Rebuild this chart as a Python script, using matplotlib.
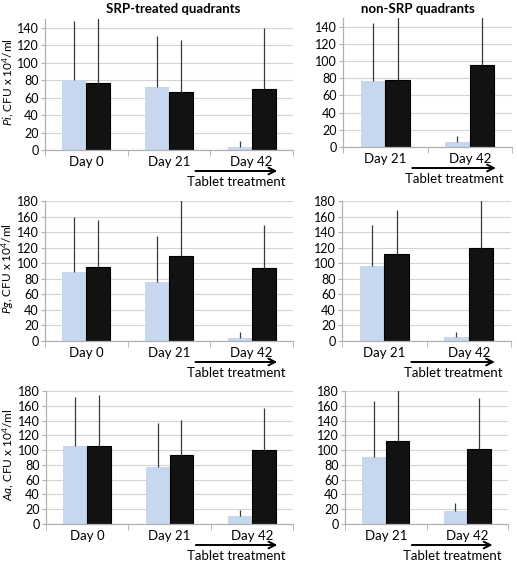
import matplotlib
matplotlib.use("Agg")
import matplotlib.pyplot as plt
import matplotlib.transforms as mtransforms
import numpy as np

plt.rcParams['font.family'] = ['Lato', 'DejaVu Sans']
plt.rcParams['mathtext.fontset'] = 'custom'
plt.rcParams['mathtext.rm'] = 'Lato'
plt.rcParams['mathtext.it'] = 'Lato:italic'

# ---- data ----
days_srp = ["Day 0", "Day 21", "Day 42"]
days_non = ["Day 21", "Day 42"]

pi_srp_light = [80, 72, 3]
pi_srp_light_err = [68, 59, 7]
pi_srp_dark = [77, 66, 70]
pi_srp_dark_err = [80, 60, 70]
pi_non_light = [77, 6]
pi_non_light_err = [67, 7]
pi_non_dark = [78, 95]
pi_non_dark_err = [80, 70]

pg_srp_light = [89, 76, 4]
pg_srp_light_err = [71, 59, 8]
pg_srp_dark = [95, 109, 94]
pg_srp_dark_err = [61, 80, 55]
pg_non_light = [96, 5]
pg_non_light_err = [53, 6]
pg_non_dark = [112, 119]
pg_non_dark_err = [57, 70]

aa_srp_light = [105, 77, 11]
aa_srp_light_err = [67, 60, 8]
aa_srp_dark = [106, 93, 100]
aa_srp_dark_err = [68, 48, 57]
aa_non_light = [91, 17]
aa_non_light_err = [75, 11]
aa_non_dark = [112, 102]
aa_non_dark_err = [70, 69]

ylabels = ["Pi", "Pg", "Aa"]
titles = ["SRP-treated quadrants", "non-SRP quadrants"]
arrow_text = "Tablet treatment"

LIGHT = "#c6d7ee"
DARK = "#121212"
GRID = "#d4d4d4"
AXC = "#b0b0b0"

W, H = 517, 562
fig = plt.figure(figsize=(W / 100, H / 100), dpi=100)


def px_axes(left, right, top, bottom):
    return fig.add_axes([left / W, 1 - bottom / H, (right - left) / W, (bottom - top) / H])


rows = [
    (pi_srp_light, pi_srp_light_err, pi_srp_dark, pi_srp_dark_err,
     pi_non_light, pi_non_light_err, pi_non_dark, pi_non_dark_err, 150, 140),
    (pg_srp_light, pg_srp_light_err, pg_srp_dark, pg_srp_dark_err,
     pg_non_light, pg_non_light_err, pg_non_dark, pg_non_dark_err, 180, 180),
    (aa_srp_light, aa_srp_light_err, aa_srp_dark, aa_srp_dark_err,
     aa_non_light, aa_non_light_err, aa_non_dark, aa_non_dark_err, 180, 180),
]

pos = [
    [(45, 293, 19, 150), (343, 512, 18, 147)],
    [(45, 293, 201, 341), (342, 511, 201, 341)],
    [(46, 293, 391, 524), (345, 508, 391, 524)],
]

bw = 0.29


def draw(ax, box, cats, light, lerr, dark, derr, ymax, ytop, ylabel=None):
    x = np.arange(len(cats))
    ax.set_axisbelow(True)
    ax.yaxis.grid(True, color=GRID, lw=0.8)
    ax.bar(x - bw / 2, light, bw, color=LIGHT, edgecolor='none', zorder=2)
    ax.bar(x + bw / 2, dark, bw, color=DARK, edgecolor='black', lw=0.8, zorder=2)
    ax.vlines(x - bw / 2, light, np.array(light) + np.array(lerr), color='#3a3a3a', lw=0.9, zorder=3)
    ax.vlines(x + bw / 2, dark, np.array(dark) + np.array(derr), color='#3a3a3a', lw=0.9, zorder=3)
    ax.set_xlim(-0.5, len(cats) - 0.5)
    ax.set_ylim(0, ymax)
    ax.set_yticks(np.arange(0, ytop + 1, 20))
    ax.set_xticks(x)
    ax.set_xticklabels(cats, fontsize=9.5)
    ax.set_xticks(np.arange(-0.5, len(cats)), minor=True)
    ax.tick_params(axis='x', which='major', length=0, pad=4)
    ax.tick_params(axis='x', which='minor', length=4, color=AXC)
    ax.tick_params(axis='y', length=3, color=AXC, labelsize=9, pad=1.5)
    for s in ['top', 'right']:
        ax.spines[s].set_visible(False)
    for s in ['left', 'bottom']:
        ax.spines[s].set_color(AXC)
        ax.spines[s].set_linewidth(0.9)
    if ylabel:
        ax.set_ylabel(r"$\mathit{" + ylabel + r"}$, CFU x 10$^4$/ml", fontsize=8.5)
        left, right = box[0], box[1]
        ax.yaxis.set_label_coords((16 - left) / (right - left), 0.52)
    # arrow + text under last category
    last = len(cats) - 1
    tr_a = ax.get_xaxis_transform() + mtransforms.ScaledTranslation(0, -21 / 100, fig.dpi_scale_trans)
    tr_t = ax.get_xaxis_transform() + mtransforms.ScaledTranslation(0, -32 / 100, fig.dpi_scale_trans)
    x0, x1 = last - 0.68, last + 0.31
    ax.annotate('', xy=(x1, 0), xycoords=tr_a, xytext=(x0, 0), textcoords=tr_a,
                arrowprops=dict(arrowstyle='->', lw=1.4, color='black',
                                mutation_scale=12, shrinkA=0, shrinkB=0),
                annotation_clip=False)
    ax.text((x0 + x1) / 2, 0, arrow_text, transform=tr_t, ha='center', va='center',
            fontsize=9.5, clip_on=False)


for r, row in enumerate(rows):
    (sl, sle, sd, sde, nl, nle, nd, nde, ymax, ytop) = row
    axl = px_axes(*pos[r][0])
    draw(axl, pos[r][0], days_srp, sl, sle, sd, sde, ymax, ytop, ylabels[r])
    axr = px_axes(*pos[r][1])
    draw(axr, pos[r][1], days_non, nl, nle, nd, nde, ymax, ytop)

fig.text(173 / W, 1 - 9 / H, titles[0], ha='center', va='center', fontsize=9.5, fontweight='bold')
fig.text(418 / W, 1 - 9 / H, titles[1], ha='center', va='center', fontsize=9.5, fontweight='bold')

fig.savefig("out.png", dpi=100)
